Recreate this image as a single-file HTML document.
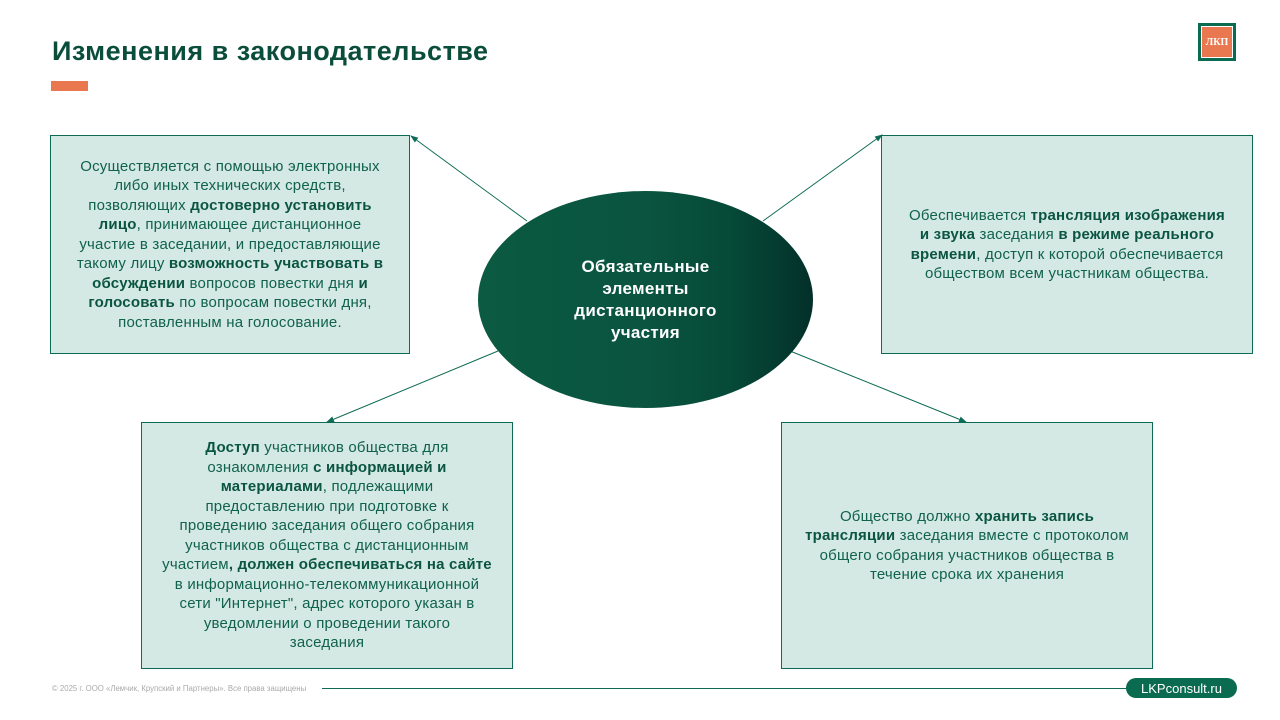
<!DOCTYPE html>
<html><head><meta charset="utf-8"><style>
*{margin:0;padding:0;box-sizing:border-box}
body{width:1280px;height:720px;background:#fff;position:relative;overflow:hidden;font-family:"Liberation Sans","DejaVu Sans",sans-serif}
.title{position:absolute;left:52px;top:36px;font-size:27px;font-weight:bold;color:#0a4d3a;white-space:nowrap;letter-spacing:0.5px}
.bar{position:absolute;left:51px;top:81px;width:37px;height:10px;background:#e9774f}
.box{position:absolute;background:#d4e8e4;border:1px solid #0e6b55;display:flex;align-items:center;justify-content:center;text-align:center;color:#10624b;font-size:15px;line-height:19.5px;white-space:nowrap;letter-spacing:0.2px}
.box b{color:#0a5540}
.ell{position:absolute;left:478px;top:191px;width:335px;height:217px;border-radius:50%;background:linear-gradient(90deg,#0b5a41 0%,#0a5440 50%,#064a38 75%,#03302a 100%);display:flex;align-items:center;justify-content:center;color:#fff;font-weight:bold;font-size:17px;line-height:22px;text-align:center;letter-spacing:0.3px}
.logo{position:absolute;left:1198px;top:23px;width:38px;height:38px;background:#0a6b50;padding:3px}
.logo div{width:100%;height:100%;background:#fff;padding:1px}
.logo span{display:flex;width:100%;height:100%;background:#e9774f;color:#fff;font-size:10px;font-weight:bold;align-items:center;justify-content:center;font-family:"Liberation Serif",serif}
.foot{position:absolute;left:52px;top:684px;font-size:7.8px;color:#aaa;white-space:nowrap}
.fline{position:absolute;left:322px;top:688px;width:810px;height:1px;background:#0e6b55}
.pill{position:absolute;left:1126px;top:678px;width:111px;height:20px;border-radius:10px;background:#0a6b50;color:#fff;font-size:13px;display:flex;align-items:center;justify-content:center}
</style></head><body>
<div class="title">Изменения в законодательстве</div>
<div class="bar"></div>
<div class="logo"><div><span>ЛКП</span></div></div>

<svg style="position:absolute;left:0;top:0" width="1280" height="720">
<defs><marker id="a" markerWidth="8" markerHeight="8" refX="7" refY="4" orient="auto" markerUnits="userSpaceOnUse"><path d="M0,1 L8,4 L0,7z" fill="#0e6b55"/></marker></defs>
<g stroke="#0e6b55" stroke-width="1" fill="none">
<line x1="527" y1="221" x2="411" y2="136" marker-end="url(#a)"/>
<line x1="763" y1="221" x2="882" y2="135" marker-end="url(#a)"/>
<line x1="498" y1="351" x2="327" y2="422" marker-end="url(#a)"/>
<line x1="790" y1="351" x2="966" y2="422" marker-end="url(#a)"/>
</g></svg>

<div class="box" style="left:50px;top:135px;width:360px;height:219px"><div>Осуществляется с помощью электронных<br>либо иных технических средств,<br>позволяющих <b>достоверно установить<br>лицо</b>, принимающее дистанционное<br>участие в заседании, и предоставляющие<br>такому лицу <b>возможность участвовать в<br>обсуждении</b> вопросов повестки дня <b>и<br>голосовать</b> по вопросам повестки дня,<br>поставленным на голосование.</div></div>

<div class="box" style="left:881px;top:135px;width:372px;height:219px"><div>Обеспечивается <b>трансляция изображения<br>и звука</b> заседания <b>в режиме реального<br>времени</b>, доступ к которой обеспечивается<br>обществом всем участникам общества.</div></div>

<div class="box" style="left:141px;top:422px;width:372px;height:247px"><div><b>Доступ</b> участников общества для<br>ознакомления <b>с информацией и<br>материалами</b>, подлежащими<br>предоставлению при подготовке к<br>проведению заседания общего собрания<br>участников общества с дистанционным<br>участием<b>, должен обеспечиваться на сайте</b><br>в информационно-телекоммуникационной<br>сети "Интернет", адрес которого указан в<br>уведомлении о проведении такого<br>заседания</div></div>

<div class="box" style="left:781px;top:422px;width:372px;height:247px"><div>Общество должно <b>хранить запись<br>трансляции</b> заседания вместе с протоколом<br>общего собрания участников общества в<br>течение срока их хранения</div></div>

<div class="ell"><div>Обязательные<br>элементы<br>дистанционного<br>участия</div></div>

<div class="foot">© 2025 г. ООО «Лемчик, Крупский и Партнеры». Все права защищены</div>
<div class="fline"></div>
<div class="pill">LKPconsult.ru</div>
</body></html>
